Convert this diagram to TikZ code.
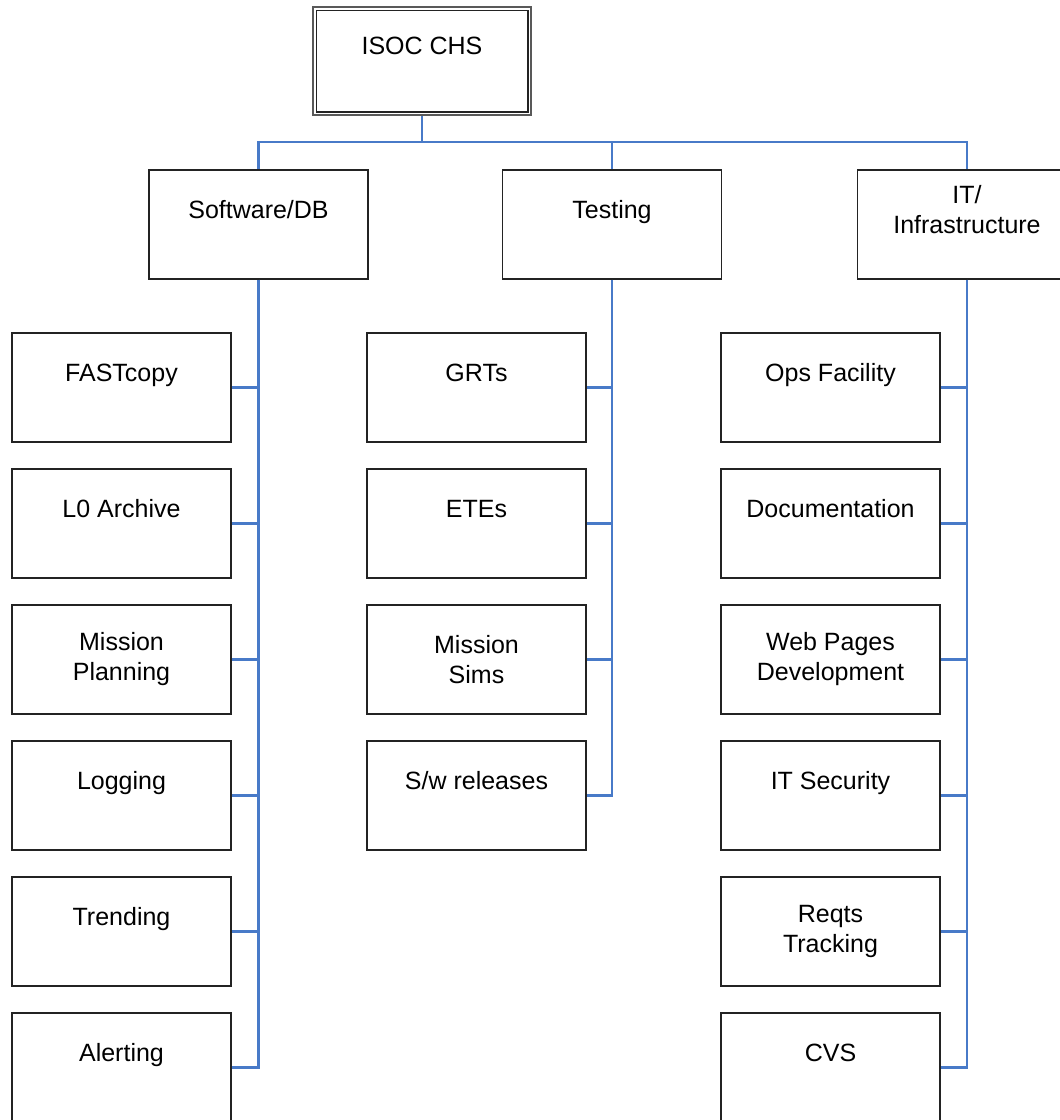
\documentclass[tikz,border=0pt]{standalone}
\usepackage{fontspec}
\setmainfont{Liberation Sans}
\definecolor{linkblue}{RGB}{72,122,200}
\definecolor{boxline}{RGB}{35,35,35}
\begin{document}
\begin{tikzpicture}[x=1pt,y=-1pt,
  box/.style={draw=boxline, line width=1.8pt, fill=white, rectangle,
    minimum width=219pt, minimum height=109pt, inner sep=0pt, align=center,
    font=\fontsize{25}{30}\selectfont},
  rootbox/.style={box, minimum width=218pt, minimum height=108pt, draw=black!65,
    line width=2.6pt},
  link/.style={draw=linkblue, line width=2.3pt}]
\useasboundingbox (0,0) rectangle (1060,1120);
\clip (0,0) rectangle (1060,1120);
\fill[white] (0,0) rectangle (1060,1120);

\node[rootbox] (root) at (422,61) {ISOC CHS\\\mbox{}};
\draw[boxline, line width=1.4pt] ([shift={(4.5,4.5)}]root.north west) rectangle ([shift={(-4.5,-4.5)}]root.south east);

\node[box] (sw) at (258.5,224.5) {Software/DB\\\mbox{}};
\node[box] (test) at (612,224.5) {Testing\\\mbox{}};
\node[box] (it) at (967,224.5) {IT/\\Infrastructure\\\mbox{}};

% Software/DB children
\node[box] (fast) at (121.5,387.5) {FASTcopy\\\mbox{}};
\node[box] (lzero) at (121.5,523.5) {L0 Archive\\\mbox{}};
\node[box] (mplan) at (121.5,659.5) {Mission\\Planning};
\node[box] (logg) at (121.5,795.5) {Logging\\\mbox{}};
\node[box] (trend) at (121.5,931.5) {Trending\\\mbox{}};
\node[box] (alert) at (121.5,1067.5) {Alerting\\\mbox{}};

% Testing children
\node[box] (grt) at (476.5,387.5) {GRTs\\\mbox{}};
\node[box] (ete) at (476.5,523.5) {ETEs\\\mbox{}};
\node[box] (msims) at (476.5,659.5) {Mission\\Sims};
\node[box] (swrel) at (476.5,795.5) {S/w releases\\\mbox{}};

% IT children
\node[box] (ops) at (830.5,387.5) {Ops Facility\\\mbox{}};
\node[box] (doc) at (830.5,523.5) {Documentation\\\mbox{}};
\node[box] (web) at (830.5,659.5) {Web Pages\\Development};
\node[box] (itsec) at (830.5,795.5) {IT Security\\\mbox{}};
\node[box] (reqt) at (830.5,931.5) {Reqts\\Tracking};
\node[box] (cvs) at (830.5,1067.5) {CVS\\\mbox{}};

% top-level connectors
\draw[link] (root.south) -- ++(0,26) -| (sw.north);
\draw[link] (root.south) -- ++(0,26) -| (test.north);
\draw[link] (root.south) -- ++(0,26) -| (it.north);

% child connectors
\foreach \c in {fast,lzero,mplan,logg,trend,alert}
  \draw[link] (sw.south) |- (\c.east);
\foreach \c in {grt,ete,msims,swrel}
  \draw[link] (test.south) |- (\c.east);
\foreach \c in {ops,doc,web,itsec,reqt,cvs}
  \draw[link] (it.south) |- (\c.east);
\end{tikzpicture}
\end{document}
